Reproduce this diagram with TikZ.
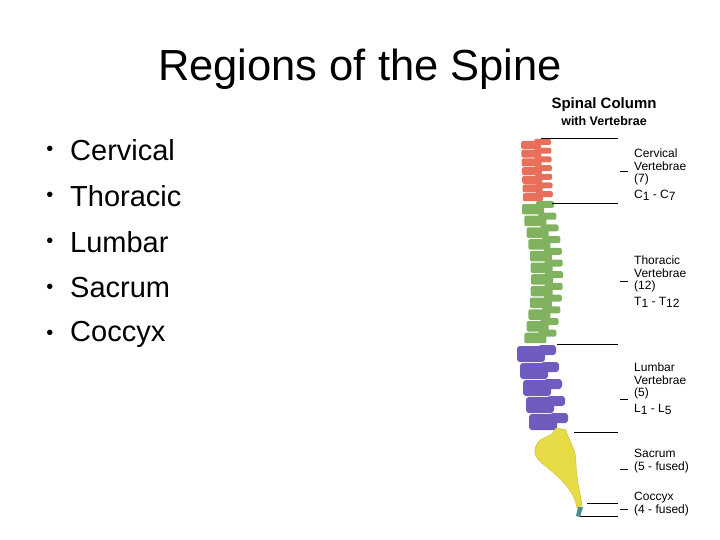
\documentclass[tikz,border=0pt]{standalone}
\usepackage{fontspec}
\setmainfont{Liberation Sans}
\newcommand{\sbs}[1]{\raisebox{-2.5pt}{#1}}
\begin{document}
\begin{tikzpicture}[x=1pt,y=-1pt,
  lbl/.style={anchor=north west,font=\fontsize{12}{12.5}\selectfont,align=left,inner sep=0},
  bul/.style={anchor=west,font=\fontsize{29}{30}\selectfont,inner sep=0},
  sep/.style={line width=0.8pt},
  cerv/.style={fill={rgb,255:red,232;green,112;blue,90},draw=none,rounded corners=2pt},
  thor/.style={fill={rgb,255:red,128;green,178;blue,96},draw=none,rounded corners=2pt},
  lumb/.style={fill={rgb,255:red,112;green,92;blue,190},draw=none,rounded corners=3pt}]
\useasboundingbox (0,0) rectangle (720,540);
\node[font=\fontsize{43.5}{46}\selectfont] (title) at (360,69) {Regions of the Spine};
\foreach \t/\y [count=\i] in {Cervical/150,Thoracic/196,Lumbar/242,Sacrum/288,Coccyx/334}{
  \node[bul] (b\i) at (70,\y) {\t};
  \node[font=\fontsize{20}{22}\selectfont,inner sep=0] (d\i) at (50,\y+1) {•};
}
\node[font=\bfseries\fontsize{15}{15}\selectfont,inner sep=0] (h1) at (604,105) {Spinal Column};
\node[font=\bfseries\fontsize{12.5}{13}\selectfont,inner sep=0] (h2) at (604,121) {with Vertebrae};
% vertebrae
\foreach \i in {0,...,6}{
  \path[cerv] ({521+\i*0.3},{141+\i*8.7}) rectangle ++(20,8);
  \path[cerv] ({534+\i*0.3},{139+\i*8.7}) rectangle ++(17,6);
}
\foreach \i in {0,...,11}{
  \pgfmathsetmacro{\xx}{522+9*sin(\i*15)}
  \path[thor] (\xx,{204+\i*11.7}) rectangle ++(22,10.5);
  \path[thor] (\xx+14,{201+\i*11.7}) rectangle ++(18,7);
}
\foreach \i in {0,...,4}{
  \path[lumb] ({517+\i*3},{346+\i*17}) rectangle ++(28,16);
  \path[lumb] ({538+\i*3},{345+\i*17}) rectangle ++(18,10);
}
\path[fill={rgb,255:red,232;green,220;blue,70},draw={rgb,255:red,200;green,185;blue,40},line width=0.4pt]
  (556,428) -- (566,430) .. controls (568,440) and (576,448) .. (576,462) .. controls (576,480) and (580,490) .. (582,505) -- (577,508)
  .. controls (574,490) and (560,478) .. (548,468) .. controls (535,458) and (530,452) .. (540,440) -- (552,434) -- cycle;
\path[fill={rgb,255:red,80;green,140;blue,140}] (578,507) -- (583,507) -- (580,517) -- (576,516) -- cycle;
% lines
\draw[sep] (541,138) -- (618,138);
\draw[sep] (552,203) -- (618,203);
\draw[sep] (557,344) -- (618,344);
\draw[sep] (574,432) -- (618,432);
\draw[sep] (587,503) -- (618,503);
\draw[sep] (580,516) -- (618,516);
\foreach \y in {171,281,399,469,509}{\draw[sep] (620,\y) -- (628,\y);}
\node[lbl] (l1) at (634,149) {Cervical\\Vertebrae\\(7)\\[3pt]C\sbs{1} - C\sbs{7}};
\node[lbl] (l2) at (634,256) {Thoracic\\Vertebrae\\(12)\\[3pt]T\sbs{1} - T\sbs{12}};
\node[lbl] (l3) at (634,363) {Lumbar\\Vertebrae\\(5)\\[3pt]L\sbs{1} - L\sbs{5}};
\node[lbl] (l4) at (634,449) {Sacrum\\(5 - fused)};
\node[lbl] (l5) at (634,492) {Coccyx\\(4 - fused)};
\end{tikzpicture}
\end{document}
